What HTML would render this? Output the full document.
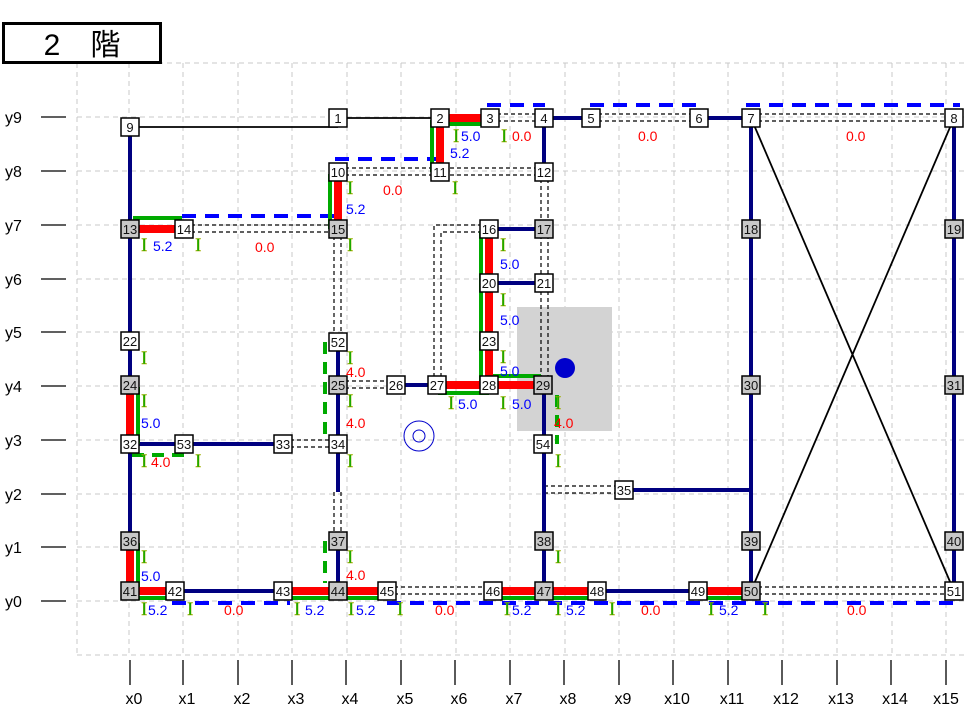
<!DOCTYPE html>
<html><head><meta charset="utf-8"><style>
body{margin:0;background:#fff}
svg{display:block;font-family:"Liberation Sans","Noto Sans CJK JP",sans-serif}
.gr{stroke:#c8c8c8;stroke-width:1;stroke-dasharray:5 4}
.nv{stroke:#000080;stroke-width:4;fill:none}
.rd{stroke:#ff0000;stroke-width:8;fill:none}
.gn{stroke:#00aa00;stroke-width:4;fill:none}
.gd{stroke:#00aa00;stroke-width:4;fill:none;stroke-dasharray:12 8}
.bd{stroke:#0000ff;stroke-width:4;fill:none;stroke-dasharray:14 9}
.dd{stroke:#000;stroke-width:1.2;fill:none;stroke-dasharray:4 3}
.bk{stroke:#000;stroke-width:1.8;fill:none}
.nw rect{fill:#fff;stroke:#000;stroke-width:1.5}
.ng rect{fill:#c8c8c8;stroke:#000;stroke-width:1.5}
.nd text{font-size:13px;text-anchor:middle;fill:#111}
.I{fill:#00a800;font-size:19px;font-family:"Liberation Serif",serif;stroke:#b0b000;stroke-width:0.4}
.b{fill:#0000ff;font-size:14px}
.r{fill:#ff0000;font-size:14px}
.ax{font-size:16px;fill:#000}
</style></head><body>
<svg width="964" height="722" viewBox="0 0 964 722" xmlns="http://www.w3.org/2000/svg">
<!-- grid -->
<g class="gr">
<line x1="77" y1="63" x2="964" y2="63"/>
<line x1="77" y1="117" x2="964" y2="117"/><line x1="77" y1="171" x2="964" y2="171"/>
<line x1="77" y1="225" x2="964" y2="225"/><line x1="77" y1="279" x2="964" y2="279"/>
<line x1="77" y1="332" x2="964" y2="332"/><line x1="77" y1="386" x2="964" y2="386"/>
<line x1="77" y1="440" x2="964" y2="440"/><line x1="77" y1="494" x2="964" y2="494"/>
<line x1="77" y1="547" x2="964" y2="547"/><line x1="77" y1="601" x2="964" y2="601"/>
<line x1="77" y1="655" x2="964" y2="655"/>
<line x1="77" y1="63" x2="77" y2="655"/>
<line x1="129" y1="63" x2="129" y2="655"/><line x1="183" y1="63" x2="183" y2="655"/>
<line x1="238" y1="63" x2="238" y2="655"/><line x1="292" y1="63" x2="292" y2="655"/>
<line x1="347" y1="63" x2="347" y2="655"/><line x1="401" y1="63" x2="401" y2="655"/>
<line x1="456" y1="63" x2="456" y2="655"/><line x1="510" y1="63" x2="510" y2="655"/>
<line x1="565" y1="63" x2="565" y2="655"/><line x1="619" y1="63" x2="619" y2="655"/>
<line x1="674" y1="63" x2="674" y2="655"/><line x1="728" y1="63" x2="728" y2="655"/>
<line x1="783" y1="63" x2="783" y2="655"/><line x1="837" y1="63" x2="837" y2="655"/>
<line x1="892" y1="63" x2="892" y2="655"/><line x1="946" y1="63" x2="946" y2="655"/>
</g>
<!-- title -->
<rect x="3.5" y="23.5" width="157" height="39" fill="#fff" stroke="#000" stroke-width="3"/>
<text x="82" y="55" font-size="30" text-anchor="middle" font-family="Liberation Sans,'Noto Sans CJK JP',sans-serif">2　階</text>
<!-- axes -->
<g stroke="#000" stroke-width="1.3">
<line x1="41" y1="117" x2="66" y2="117"/><line x1="41" y1="171" x2="66" y2="171"/><line x1="41" y1="225" x2="66" y2="225"/><line x1="41" y1="279" x2="66" y2="279"/><line x1="41" y1="332" x2="66" y2="332"/><line x1="41" y1="386" x2="66" y2="386"/><line x1="41" y1="440" x2="66" y2="440"/><line x1="41" y1="494" x2="66" y2="494"/><line x1="41" y1="547" x2="66" y2="547"/><line x1="41" y1="601" x2="66" y2="601"/>
<line x1="130" y1="660" x2="130" y2="685"/><line x1="183" y1="660" x2="183" y2="685"/><line x1="238" y1="660" x2="238" y2="685"/><line x1="292" y1="660" x2="292" y2="685"/><line x1="346" y1="660" x2="346" y2="685"/><line x1="401" y1="660" x2="401" y2="685"/><line x1="455" y1="660" x2="455" y2="685"/><line x1="510" y1="660" x2="510" y2="685"/><line x1="564" y1="660" x2="564" y2="685"/><line x1="619" y1="660" x2="619" y2="685"/><line x1="673" y1="660" x2="673" y2="685"/><line x1="728" y1="660" x2="728" y2="685"/><line x1="782" y1="660" x2="782" y2="685"/><line x1="837" y1="660" x2="837" y2="685"/><line x1="891" y1="660" x2="891" y2="685"/><line x1="946" y1="660" x2="946" y2="685"/>
</g>
<g class="ax">
<text x="5" y="123">y9</text><text x="5" y="177">y8</text><text x="5" y="231">y7</text><text x="5" y="285">y6</text><text x="5" y="338">y5</text><text x="5" y="392">y4</text><text x="5" y="446">y3</text><text x="5" y="500">y2</text><text x="5" y="553">y1</text><text x="5" y="607">y0</text>
</g>
<g class="ax" text-anchor="middle">
<text x="134" y="704">x0</text><text x="187" y="704">x1</text><text x="242" y="704">x2</text><text x="296" y="704">x3</text><text x="350" y="704">x4</text><text x="405" y="704">x5</text><text x="459" y="704">x6</text><text x="514" y="704">x7</text><text x="568" y="704">x8</text><text x="623" y="704">x9</text><text x="677" y="704">x10</text><text x="732" y="704">x11</text><text x="786" y="704">x12</text><text x="841" y="704">x13</text><text x="895" y="704">x14</text><text x="946" y="704">x15</text>
</g>
<!-- gray rect & symbols -->
<rect x="517" y="307" width="95" height="124" fill="#d3d3d3"/>
<circle cx="565" cy="368" r="10" fill="#0000cc"/>
<circle cx="419" cy="436" r="15" fill="none" stroke="#0000cc" stroke-width="1"/>
<circle cx="419" cy="436" r="6" fill="none" stroke="#0000cc" stroke-width="1"/>
<!-- double dashed -->
<g class="dd">
<path d="M490 114H544M490 121H544"/><path d="M591 114H699M591 121H699"/><path d="M751 114H954M751 121H954"/>
<path d="M338 168H544M338 175H544"/><path d="M184 225H338M184 232H338"/>
<path d="M541 172V385M548 172V385"/>
<path d="M489 225H434V385M489 232H441V385"/>
<path d="M334 229V342M341 229V342"/>
<path d="M334 492V541M341 492V541"/>
<path d="M338 381H396M338 388H396"/>
<path d="M283 440H338M283 447H338"/>
<path d="M387 587H493M387 594H493"/>
<path d="M751 587H954M751 594H954"/>
<path d="M544 486H624M544 493H624"/>
</g>
<!-- thin black -->
<g class="bk">
<path d="M130 127H338"/><path d="M338 118H440"/>
<path d="M751 118L954 591"/><path d="M954 118L751 591"/>
</g>
<!-- navy -->
<g class="nv">
<path d="M130 127V591"/><path d="M544 118V172"/><path d="M544 118H591"/><path d="M699 118H751"/>
<path d="M751 118V591"/><path d="M954 118V591"/>
<path d="M489 229H544"/><path d="M489 283H544"/><path d="M396 385H437"/>
<path d="M338 342V492"/><path d="M338 541V591"/>
<path d="M130 444H283"/><path d="M544 385V591"/>
<path d="M175 591H283"/><path d="M597 591H698"/><path d="M624 490H751"/>
</g>
<!-- blue dashed -->
<g class="bd">
<path d="M487 105H545"/><path d="M590 105H700"/><path d="M746 105H960"/>
<path d="M335 159H440"/><path d="M182 216H338"/>
<path d="M172 603H290"/><path d="M387 603H960"/>
</g>
<!-- green -->
<g class="gn">
<path d="M445 124H488"/><path d="M432 120V172"/><path d="M330 174V229"/><path d="M133 218H182"/>
<path d="M481 231V385"/><path d="M438 393H489"/><path d="M489 376H541"/>
<path d="M138 387V444"/><path d="M138 543V591M133 598H183"/>
<path d="M285 598H338M344 598H389"/><path d="M495 598H543M548 598H597"/><path d="M700 598H751"/>
</g>
<g class="gd">
<path d="M325 342V440"/><path d="M325 541V583"/><path d="M557 395V444"/><path d="M132 455H190"/>
</g>
<!-- red -->
<g class="rd">
<path d="M440 118H490"/><path d="M440 118V172"/><path d="M338 172V229"/><path d="M130 229H184"/>
<path d="M489 229V385"/><path d="M437 385H543"/>
<path d="M130 385V444"/><path d="M130 541V591"/><path d="M130 591H175"/>
<path d="M283 591H387"/><path d="M493 591H597"/><path d="M698 591H751"/>
</g>
<!-- labels -->
<g class="I">
<text x="453" y="142">I</text><text x="501" y="142">I</text>
<text x="347" y="194">I</text><text x="452" y="194">I</text>
<text x="141" y="251">I</text><text x="195" y="251">I</text><text x="347" y="251">I</text><text x="500" y="251">I</text>
<text x="500" y="306">I</text><text x="500" y="363">I</text>
<text x="141" y="364">I</text><text x="347" y="364">I</text>
<text x="141" y="407">I</text><text x="347" y="407">I</text><text x="448" y="409">I</text><text x="500" y="409">I</text><text x="555" y="409">I</text>
<text x="141" y="467">I</text><text x="195" y="467">I</text><text x="347" y="467">I</text><text x="555" y="467">I</text>
<text x="141" y="563">I</text><text x="347" y="563">I</text><text x="555" y="563">I</text>
<text x="141" y="615">I</text><text x="187" y="615">I</text><text x="294" y="615">I</text><text x="348" y="615">I</text><text x="397" y="615">I</text><text x="504" y="615">I</text><text x="555" y="615">I</text><text x="609" y="615">I</text><text x="708" y="615">I</text><text x="762" y="615">I</text>
</g>
<g class="b">
<text x="461" y="141">5.0</text><text x="450" y="158">5.2</text><text x="346" y="214">5.2</text>
<text x="153" y="251">5.2</text><text x="500" y="269">5.0</text><text x="500" y="325">5.0</text><text x="500" y="376">5.0</text>
<text x="141" y="428">5.0</text><text x="458" y="409">5.0</text><text x="512" y="409">5.0</text>
<text x="141" y="581">5.0</text>
<text x="148" y="615">5.2</text><text x="305" y="615">5.2</text><text x="356" y="615">5.2</text><text x="512" y="615">5.2</text><text x="566" y="615">5.2</text><text x="719" y="615">5.2</text>
</g>
<g class="r">
<text x="512" y="141">0.0</text><text x="638" y="141">0.0</text><text x="846" y="141">0.0</text>
<text x="383" y="195">0.0</text><text x="255" y="252">0.0</text>
<text x="346" y="377">4.0</text><text x="346" y="428">4.0</text><text x="554" y="428">4.0</text>
<text x="151" y="467">4.0</text><text x="346" y="580">4.0</text>
<text x="224" y="615">0.0</text><text x="435" y="615">0.0</text><text x="641" y="615">0.0</text><text x="847" y="615">0.0</text>
</g>
<!-- nodes -->
<g class="nd nw">
<rect x="329" y="109" width="18" height="18"/><text x="338" y="123">1</text>
<rect x="431" y="109" width="18" height="18"/><text x="440" y="123">2</text>
<rect x="481" y="109" width="18" height="18"/><text x="490" y="123">3</text>
<rect x="535" y="109" width="18" height="18"/><text x="544" y="123">4</text>
<rect x="582" y="109" width="18" height="18"/><text x="591" y="123">5</text>
<rect x="690" y="109" width="18" height="18"/><text x="699" y="123">6</text>
<rect x="742" y="109" width="18" height="18"/><text x="751" y="123">7</text>
<rect x="945" y="109" width="18" height="18"/><text x="954" y="123">8</text>
<rect x="121" y="118" width="18" height="18"/><text x="130" y="132">9</text>
<rect x="329" y="163" width="18" height="18"/><text x="338" y="177">10</text>
<rect x="431" y="163" width="18" height="18"/><text x="440" y="177">11</text>
<rect x="535" y="163" width="18" height="18"/><text x="544" y="177">12</text>
<rect x="175" y="220" width="18" height="18"/><text x="184" y="234">14</text>
<rect x="480" y="220" width="18" height="18"/><text x="489" y="234">16</text>
<rect x="480" y="274" width="18" height="18"/><text x="489" y="288">20</text>
<rect x="535" y="274" width="18" height="18"/><text x="544" y="288">21</text>
<rect x="121" y="332" width="18" height="18"/><text x="130" y="346">22</text>
<rect x="480" y="332" width="18" height="18"/><text x="489" y="346">23</text>
<rect x="329" y="333" width="18" height="18"/><text x="338" y="347">52</text>
<rect x="387" y="376" width="18" height="18"/><text x="396" y="390">26</text>
<rect x="428" y="376" width="18" height="18"/><text x="437" y="390">27</text>
<rect x="480" y="376" width="18" height="18"/><text x="489" y="390">28</text>
<rect x="121" y="435" width="18" height="18"/><text x="130" y="449">32</text>
<rect x="175" y="435" width="18" height="18"/><text x="184" y="449">53</text>
<rect x="274" y="435" width="18" height="18"/><text x="283" y="449">33</text>
<rect x="329" y="435" width="18" height="18"/><text x="338" y="449">34</text>
<rect x="534" y="435" width="18" height="18"/><text x="543" y="449">54</text>
<rect x="615" y="481" width="18" height="18"/><text x="624" y="495">35</text>
<rect x="166" y="582" width="18" height="18"/><text x="175" y="596">42</text>
<rect x="274" y="582" width="18" height="18"/><text x="283" y="596">43</text>
<rect x="378" y="582" width="18" height="18"/><text x="387" y="596">45</text>
<rect x="484" y="582" width="18" height="18"/><text x="493" y="596">46</text>
<rect x="588" y="582" width="18" height="18"/><text x="597" y="596">48</text>
<rect x="689" y="582" width="18" height="18"/><text x="698" y="596">49</text>
<rect x="945" y="582" width="18" height="18"/><text x="954" y="596">51</text>
</g>
<g class="nd ng">
<rect x="121" y="220" width="18" height="18"/><text x="130" y="234">13</text>
<rect x="329" y="220" width="18" height="18"/><text x="338" y="234">15</text>
<rect x="535" y="220" width="18" height="18"/><text x="544" y="234">17</text>
<rect x="742" y="220" width="18" height="18"/><text x="751" y="234">18</text>
<rect x="945" y="220" width="18" height="18"/><text x="954" y="234">19</text>
<rect x="121" y="376" width="18" height="18"/><text x="130" y="390">24</text>
<rect x="329" y="376" width="18" height="18"/><text x="338" y="390">25</text>
<rect x="534" y="376" width="18" height="18"/><text x="543" y="390">29</text>
<rect x="742" y="376" width="18" height="18"/><text x="751" y="390">30</text>
<rect x="945" y="376" width="18" height="18"/><text x="954" y="390">31</text>
<rect x="121" y="532" width="18" height="18"/><text x="130" y="546">36</text>
<rect x="329" y="532" width="18" height="18"/><text x="338" y="546">37</text>
<rect x="535" y="532" width="18" height="18"/><text x="544" y="546">38</text>
<rect x="742" y="532" width="18" height="18"/><text x="751" y="546">39</text>
<rect x="945" y="532" width="18" height="18"/><text x="954" y="546">40</text>
<rect x="121" y="582" width="18" height="18"/><text x="130" y="596">41</text>
<rect x="329" y="582" width="18" height="18"/><text x="338" y="596">44</text>
<rect x="535" y="582" width="18" height="18"/><text x="544" y="596">47</text>
<rect x="742" y="582" width="18" height="18"/><text x="751" y="596">50</text>
</g>
</svg>
</body></html>
